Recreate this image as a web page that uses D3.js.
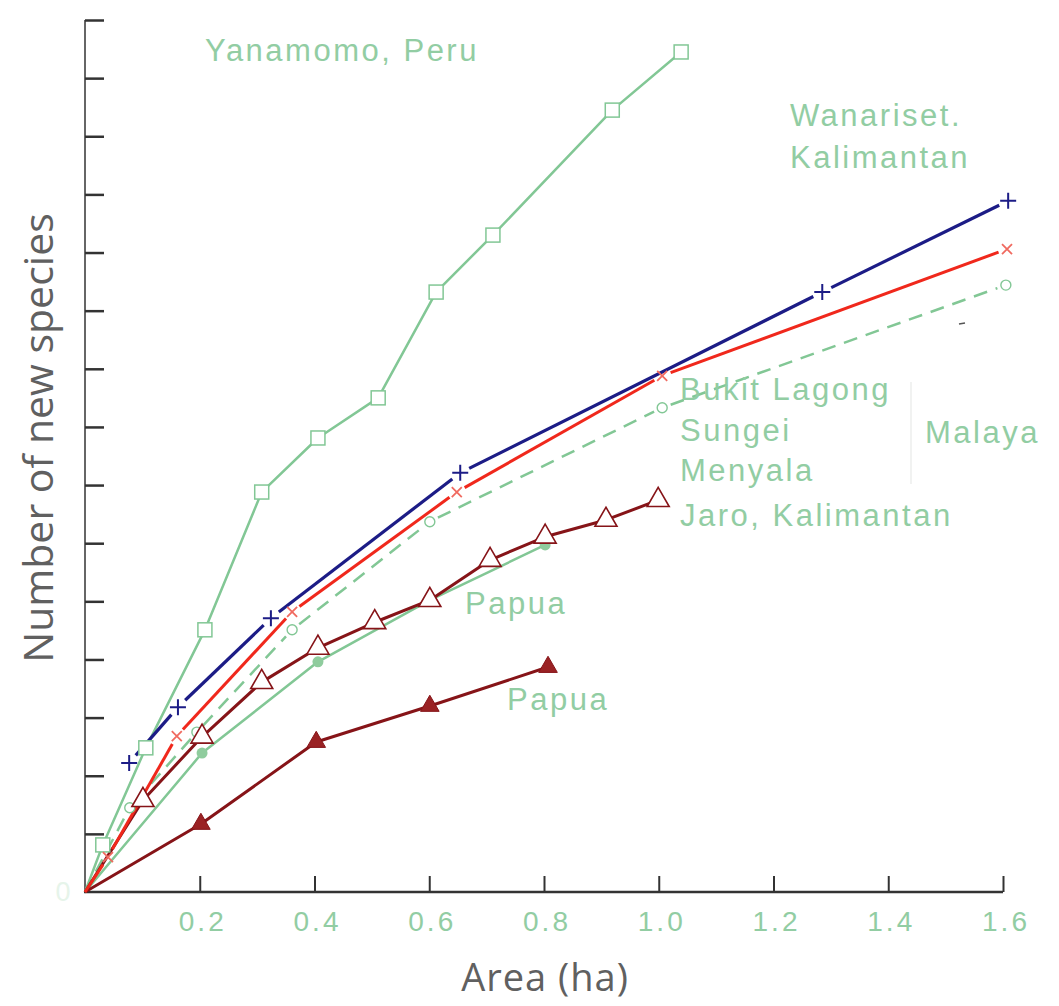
<!DOCTYPE html>
<html><head><meta charset="utf-8">
<script src="https://cdn.jsdelivr.net/npm/d3@7"></script>
<style>html,body{margin:0;padding:0;background:#fff;}</style>
</head><body>
<svg id="c" width="1059" height="1006"></svg>
<script>
// ---- data ----
const xTicks = [0.2, 0.4, 0.6, 0.8, 1.0, 1.2, 1.4, 1.6];
const xTickLabels = ["0.2", "0.4", "0.6", "0.8", "1.0", "1.2", "1.4", "1.6"];
const yTicks = [10,20,30,40,50,60,70,80,90,100,110,120,130,140,150];

const yanamomoX = [0, 0.031, 0.106, 0.209, 0.308, 0.406, 0.511, 0.612, 0.711, 0.919, 1.039];
const yanamomoY = [0, 8.1, 24.8, 45.1, 68.8, 78.1, 85.0, 103.2, 113.0, 134.5, 144.5];

const wanarisetX = [0.077, 0.162, 0.324, 0.654, 1.285, 1.609];
const wanarisetY = [22.2, 31.8, 47.1, 72.1, 103.2, 118.9];

const bukitX = [0, 0.040, 0.160, 0.361, 0.648, 1.006, 1.607];
const bukitY = [0, 6.0, 26.8, 48.2, 68.8, 88.8, 110.6];

const sungeiX = [0, 0.078, 0.195, 0.361, 0.601, 1.006, 1.605];
const sungeiY = [0, 14.5, 27.5, 45.1, 63.7, 83.3, 104.4];

const jaroX = [0, 0.101, 0.204, 0.308, 0.406, 0.505, 0.601, 0.706, 0.802, 0.908, 0.999];
const jaroY = [0, 15.8, 26.7, 36.1, 42.0, 46.4, 50.2, 57.1, 61.1, 64.0, 67.4];

const papuaAX = [0, 0.204, 0.406, 0.601, 0.802];
const papuaAY = [0, 23.9, 39.6, 50.2, 59.7];

const papuaBX = [0, 0.202, 0.403, 0.601, 0.807];
const papuaBY = [0, 11.7, 25.8, 32.0, 38.7];

// ---- setup ----
const svg = d3.select("#c");
const x = d3.scaleLinear().domain([0, 1.6]).range([85, 1003]);
const y = d3.scaleLinear().domain([0, 150]).range([892, 20]);

const GREEN = "#82c795", TXT = "#92cda3", BLUE = "#1c1c86", RED = "#f0281c", BROWN = "#861418";

const pts = (xs, ys) => xs.map((v, i) => [v, ys[i]]);

// axes
const xAxis = d3.axisBottom(x).tickValues(xTicks).tickSize(-16).tickFormat("");
const gx = svg.append("g").attr("transform", `translate(0,${y(0)})`).call(xAxis);
gx.select(".domain").attr("stroke", "#333").attr("stroke-width", 2.5).attr("d", `M84,0H${x(1.6)}`);
gx.selectAll(".tick line").attr("stroke", "#333").attr("stroke-width", 2);

const yAxis = d3.axisLeft(y).tickValues(yTicks).tickSize(-19).tickFormat("");
const gy = svg.append("g").attr("transform", `translate(85,0)`).call(yAxis);
gy.select(".domain").attr("stroke", "#666").attr("stroke-width", 2).attr("d", `M0,${y(0)}V${y(150)}`);
gy.selectAll(".tick line").attr("stroke", "#333").attr("stroke-width", 2.5);

// x tick labels
svg.append("g").selectAll("text").data(xTicks).join("text")
  .attr("x", d => x(d) + 3).attr("y", 931)
  .attr("text-anchor", "middle")
  .attr("font-family", "Liberation Sans, Arial, sans-serif")
  .attr("font-size", 28).attr("letter-spacing", 3).attr("fill", TXT)
  .text((d, i) => xTickLabels[i]);
svg.append("text").attr("x", 63).attr("y", 901).attr("text-anchor", "middle")
  .attr("font-family", "Liberation Sans, Arial, sans-serif").attr("font-size", 27)
  .attr("fill", "#e6f4ea").text("0");

// axis titles
svg.append("text").attr("x", 545).attr("y", 991).attr("text-anchor", "middle")
  .attr("font-family", "Open Sans, sans-serif").attr("font-size", 38).attr("letter-spacing", 1)
  .attr("fill", "#606060").text("Area (ha)");
svg.append("text").attr("transform", "translate(53,438) rotate(-90)").attr("text-anchor", "middle")
  .attr("font-family", "Open Sans, sans-serif").attr("font-size", 41).attr("fill", "#606060")
  .text("Number of new species");

// line helpers
const line = d3.line().x(d => x(d[0])).y(d => y(d[1]));
function fullLine(data, color, w, dash) {
  svg.append("path").datum(data).attr("d", line).attr("fill", "none")
    .attr("stroke", color).attr("stroke-width", w)
    .attr("stroke-dasharray", dash || null).attr("stroke-linejoin", "round");
}
function gappedLine(data, color, w, gap, dash) {
  const g = svg.append("g");
  for (let i = 0; i < data.length - 1; i++) {
    const x1 = x(data[i][0]), y1 = y(data[i][1]), x2 = x(data[i+1][0]), y2 = y(data[i+1][1]);
    const L = Math.hypot(x2 - x1, y2 - y1);
    const g1 = i === 0 && data[i][0] === 0 ? 0 : gap;
    const ux = (x2 - x1) / L, uy = (y2 - y1) / L;
    g.append("line")
      .attr("x1", x1 + ux * g1).attr("y1", y1 + uy * g1)
      .attr("x2", x2 - ux * gap).attr("y2", y2 - uy * gap)
      .attr("stroke", color).attr("stroke-width", w)
      .attr("stroke-dasharray", dash || null);
  }
}

const yan = pts(yanamomoX, yanamomoY);
const wan = pts(wanarisetX, wanarisetY);
const buk = pts(bukitX, bukitY);
const sun = pts(sungeiX, sungeiY);
const jar = pts(jaroX, jaroY);
const pA = pts(papuaAX, papuaAY);
const pB = pts(papuaBX, papuaBY);

fullLine(pA, GREEN, 2.5);
fullLine(yan, GREEN, 2.5);
gappedLine(sun, GREEN, 2.5, 9, "14,9");
fullLine(pB, BROWN, 3);
fullLine(jar, BROWN, 3);
gappedLine(buk, RED, 3, 9);
gappedLine(wan, BLUE, 3.2, 10);

// markers
const mk = svg.append("g");
mk.selectAll(".sq").data(yan.slice(1)).join("rect")
  .attr("x", d => x(d[0]) - 7).attr("y", d => y(d[1]) - 7).attr("width", 14).attr("height", 14)
  .attr("fill", "#fff").attr("stroke", GREEN).attr("stroke-width", 1.5);
mk.selectAll(".oc").data(sun.slice(1)).join("circle")
  .attr("cx", d => x(d[0])).attr("cy", d => y(d[1])).attr("r", 5)
  .attr("fill", "#fff").attr("stroke", GREEN).attr("stroke-width", 1.4);
mk.selectAll(".fc").data(pA.slice(1)).join("circle")
  .attr("cx", d => x(d[0])).attr("cy", d => y(d[1])).attr("r", 5.5)
  .attr("fill", "#8fcc9d");
const tri = d3.symbol().type(d3.symbolTriangle).size(210);
mk.selectAll(".ot").data(jar.slice(1)).join("path")
  .attr("d", tri).attr("transform", d => `translate(${x(d[0])},${y(d[1])})`)
  .attr("fill", "#fff").attr("stroke", BROWN).attr("stroke-width", 1.6);
const triF = d3.symbol().type(d3.symbolTriangle).size(150);
mk.selectAll(".ft").data(pB.slice(1)).join("path")
  .attr("d", triF).attr("transform", d => `translate(${x(d[0])},${y(d[1])})`)
  .attr("fill", "#9a2224").attr("stroke", BROWN).attr("stroke-width", 1);
mk.selectAll(".xm").data(buk.slice(1)).join("path")
  .attr("d", "M-5,-5L5,5M-5,5L5,-5").attr("transform", d => `translate(${x(d[0])},${y(d[1])})`)
  .attr("stroke", "#f06a60").attr("stroke-width", 1.8).attr("fill", "none");
mk.selectAll(".pm").data(wan).join("path")
  .attr("d", "M-8,0H8M0,-8V8").attr("transform", d => `translate(${x(d[0])},${y(d[1])})`)
  .attr("stroke", BLUE).attr("stroke-width", 2).attr("fill", "none");

// bracket for Malaya and stray mark
svg.append("line").attr("x1", 911).attr("x2", 911).attr("y1", 382).attr("y2", 484)
  .attr("stroke", "#eceeec").attr("stroke-width", 1.5);
svg.append("line").attr("x1", 959).attr("x2", 965).attr("y1", 324).attr("y2", 323)
  .attr("stroke", "#555").attr("stroke-width", 1.5);

// labels
const labels = [
  ["Yanamomo, Peru", 205, 61],
  ["Wanariset.", 790, 126],
  ["Kalimantan", 790, 168],
  ["Bukit Lagong", 680, 400],
  ["Sungei", 680, 441],
  ["Menyala", 680, 481],
  ["Jaro, Kalimantan", 680, 526],
  ["Malaya", 925, 443],
  ["Papua", 465, 614],
  ["Papua", 507, 710]
];
svg.append("g").selectAll("text").data(labels).join("text")
  .attr("x", d => d[1]).attr("y", d => d[2])
  .attr("font-family", "Liberation Sans, Arial, sans-serif").attr("font-size", 31)
  .attr("letter-spacing", 2.5).attr("fill", TXT).text(d => d[0]);
</script>
</body></html>
